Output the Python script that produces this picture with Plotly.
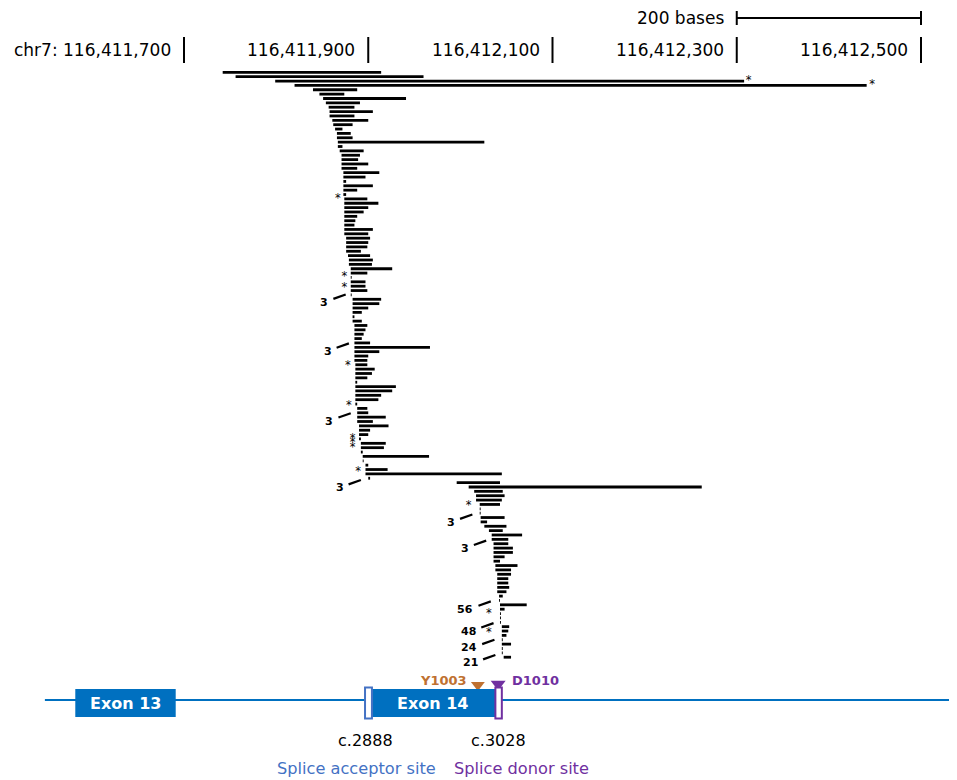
import plotly.graph_objects as go

# ---------------- data ----------------
BASE = 116411000
# deletion start / end (genomic coordinate = BASE + value), one entry per row, top to bottom
del_start = [742, 756, 799, 820, 840, 847, 851, 854, 857, 858,
             858, 861, 862, 864, 866, 866, 867, 867, 869, 871,
             871, 871, 871, 873, 873, 873, 873, 873, 873, 874,
             874, 874, 874, 874, 874, 874, 874, 874, 876, 876,
             876, 876, 878, 879, 879, 881, 881, 881, 881, 881,
             881, 881, 883, 883, 883, 883, 883, 883, 885, 885,
             885, 885, 885, 885, 885, 885, 885, 886, 886, 886,
             886, 886, 886, 886, 886, 886, 886, 888, 888, 888,
             888, 890, 890, 890, 890, 892, 892, 892, 894, 894,
             897, 897, 897, 900, 996, 1009, 1015, 1017, 1017, 1021,
             1021, 1021, 1022, 1022, 1026, 1031, 1034, 1034, 1036, 1036,
             1036, 1036, 1036, 1038, 1038, 1040, 1040, 1040, 1040, 1040,
             1042, 1042, 1043, 1043, 1043, 1043, 1043, 1045, 1045, 1045,
             1045, 1045, 1045, 1045, 1047]
del_end = [914, 960, 1308, 1441, 888, 874, 941, 891, 885, 905,
           885, 900, 883, 872, 881, 883, 1026, 872, 895, 891,
           889, 900, 888, 912, 897, 876, 905, 888, 876, 899,
           911, 900, 895, 888, 886, 885, 905, 900, 902, 900,
           899, 892, 902, 905, 904, 926, 899, 882, 897, 897,
           899, 882, 914, 912, 900, 893, 885, 893, 899, 897,
           895, 893, 902, 967, 912, 900, 899, 899, 907, 904,
           899, 888, 930, 926, 914, 911, 888, 899, 900, 919,
           905, 922, 902, 900, 892, 919, 917, 894, 966, 895,
           900, 921, 1045, 902, 1043, 1262, 1046, 1048, 1045, 1043,
           1022, 1022, 1048, 1029, 1050, 1046, 1067, 1052, 1052, 1057,
           1057, 1048, 1043, 1062, 1055, 1055, 1052, 1052, 1053, 1050,
           1046, 1043, 1072, 1048, 1044, 1044, 1044, 1053, 1052, 1050,
           1046, 1055, 1046, 1046, 1055]

# asterisk marks (row position, coordinate offset)
star_rows = [3, 4, 30, 48, 50.4, 68.3, 77.4, 85, 86, 87, 92.5, 100.5, 125.2, 129.4]
star_x = [1313, 1447, 867, 874, 874, 878, 879, 883, 883, 883, 889, 1009, 1031, 1031]

# recurrence count labels (text, row the leader points to, coordinate offset of the leader tip)
count_text = ["3", "3", "3", "3", "3", "3", "56", "48", "24", "21"]
count_rows = [51.9, 63.1, 79.1, 94.4, 102.3, 108.3, 122.2, 127.2, 131.0, 134.5]
count_x = [875.5, 879, 881, 892, 1013, 1028, 1033, 1036, 1037, 1038]

tick_values = [116411700, 116411900, 116412100, 116412300, 116412500]
tick_labels = ["chr7: 116,411,700", "116,411,900", "116,412,100", "116,412,300", "116,412,500"]

exon13 = (116411582, 116411691)
exon14 = (116411904, 116412038)
acceptor_site = (116411896.5, 116411904)
donor_site = (116412038, 116412045)
variants = {"Y1003": 116412019, "D1010": 116412041}
cdna_labels = {"c.2888": 116411896.5, "c.3028": 116412041}

# ---------------- layout helpers ----------------
PAGE_MARGIN = 8          # default body margin of the html page
W, H = 957 - PAGE_MARGIN, 780 - PAGE_MARGIN
PX_PER_BP = 0.92125
X0 = 116411700 - (184 - PAGE_MARGIN) / PX_PER_BP
X1 = X0 + W / PX_PER_BP
ROW0_PX, ROW_PX = 72.3 - PAGE_MARGIN, 4.365
Y_TOP = 1 - ROW0_PX / ROW_PX
Y_BOT = 1 + (H - ROW0_PX) / ROW_PX


def py(px):
    """paper y for a reference-picture pixel row"""
    return 1 - (px - PAGE_MARGIN) / H


def row_of(px):
    return 1 + (px - PAGE_MARGIN - ROW0_PX) / ROW_PX


FONT = "DejaVu Sans"
BLUE = "#0070C0"
PURPLE = "#7030A0"
ORANGE = "#BF7131"
LBLUE = "#4472C4"

fig = go.Figure()

# deletion bars
xs, ys = [], []
for i, (s, e) in enumerate(zip(del_start, del_end)):
    r = i + 1
    xs += [BASE + s, BASE + e, None]
    ys += [r, r, None]
fig.add_trace(go.Scatter(x=xs, y=ys, mode="lines",
                         line=dict(color="black", width=2.8),
                         hoverinfo="skip", showlegend=False))

# count leaders
lx, ly = [], []
dx_bp = 12.3 / PX_PER_BP
for t, r, x in zip(count_text, count_rows, count_x):
    lx += [BASE + x - dx_bp, BASE + x, None]
    ly += [r + 1.0, r, None]
fig.add_trace(go.Scatter(x=lx, y=ly, mode="lines",
                         line=dict(color="black", width=2.2),
                         hoverinfo="skip", showlegend=False))

annotations = []
for t, r, x in zip(count_text, count_rows, count_x):
    annotations.append(dict(x=BASE + x - dx_bp, y=r + 1.8, xref="x", yref="y",
                            text="<b>%s</b>" % t, showarrow=False, xanchor="right",
                            yanchor="middle", xshift=-3,
                            font=dict(family=FONT, size=11, color="black")))

# asterisks
fig.add_trace(go.Scatter(x=[BASE + x for x in star_x], y=star_rows, mode="text",
                         text=["*"] * len(star_rows), textposition="middle center",
                         textfont=dict(family=FONT, size=11.5, color="black"),
                         hoverinfo="skip", showlegend=False))

# variant triangles
fig.add_trace(go.Scatter(x=[variants["Y1003"]], y=[row_of(685)], mode="markers",
                         marker=dict(symbol="triangle-down", size=12, color=ORANGE),
                         hoverinfo="skip", showlegend=False))
fig.add_trace(go.Scatter(x=[variants["D1010"]], y=[row_of(684)], mode="markers",
                         marker=dict(symbol="triangle-down", size=13, color=PURPLE),
                         hoverinfo="skip", showlegend=False))

shapes = []
# header ticks
for tv in tick_values:
    shapes.append(dict(type="line", xref="x", yref="paper", x0=tv, x1=tv,
                       y0=py(63), y1=py(37), line=dict(color="black", width=2)))
# scale bar
shapes.append(dict(type="line", xref="x", yref="paper", x0=116412300, x1=116412500,
                   y0=py(18), y1=py(18), line=dict(color="black", width=2)))
for xv in (116412300, 116412500):
    shapes.append(dict(type="line", xref="x", yref="paper", x0=xv, x1=xv,
                       y0=py(11), y1=py(25), line=dict(color="black", width=2)))
# gene model
shapes.append(dict(type="line", xref="x", yref="paper", x0=116411549, x1=X1 + 5,
                   y0=py(700), y1=py(700), line=dict(color=BLUE, width=2), layer="below"))
for ex in (exon13, exon14):
    shapes.append(dict(type="rect", xref="x", yref="paper", x0=ex[0], x1=ex[1],
                       y0=py(717), y1=py(689), fillcolor=BLUE, line=dict(width=0)))
shapes.append(dict(type="rect", xref="x", yref="paper", x0=acceptor_site[0], x1=acceptor_site[1],
                   y0=py(718.5), y1=py(687.5), fillcolor="white", line=dict(color=LBLUE, width=2)))
shapes.append(dict(type="rect", xref="x", yref="paper", x0=donor_site[0], x1=donor_site[1],
                   y0=py(718.5), y1=py(687.5), fillcolor="white", line=dict(color=PURPLE, width=2)))

# header labels
for tv, tl in zip(tick_values, tick_labels):
    annotations.append(dict(x=tv, y=py(50), xref="x", yref="paper", text=tl,
                            showarrow=False, xanchor="right", yanchor="middle", xshift=-11,
                            font=dict(family=FONT, size=17, color="black")))
annotations.append(dict(x=116412300, y=py(18), xref="x", yref="paper", text="200 bases",
                        showarrow=False, xanchor="right", yanchor="middle", xshift=-11,
                        font=dict(family=FONT, size=17, color="black")))

# gene labels
annotations.append(dict(x=sum(exon13) / 2, y=py(703), xref="x", yref="paper", text="<b>Exon 13</b>",
                        showarrow=False, xanchor="center", yanchor="middle",
                        font=dict(family=FONT, size=16, color="white")))
annotations.append(dict(x=116411970, y=py(703), xref="x", yref="paper", text="<b>Exon 14</b>",
                        showarrow=False, xanchor="center", yanchor="middle",
                        font=dict(family=FONT, size=16, color="white")))
annotations.append(dict(x=variants["Y1003"], y=py(680), xref="x", yref="paper", text="<b>Y1003</b>",
                        showarrow=False, xanchor="right", yanchor="middle", xshift=-9,
                        font=dict(family=FONT, size=13, color=ORANGE)))
annotations.append(dict(x=variants["D1010"], y=py(680), xref="x", yref="paper", text="<b>D1010</b>",
                        showarrow=False, xanchor="left", yanchor="middle", xshift=12,
                        font=dict(family=FONT, size=13, color=PURPLE)))
for t, xv in cdna_labels.items():
    annotations.append(dict(x=xv, y=py(740), xref="x", yref="paper", text=t,
                            showarrow=False, xanchor="center", yanchor="middle",
                            font=dict(family=FONT, size=16, color="black")))
annotations.append(dict(x=116411700 + (356 - 184) / PX_PER_BP, y=py(768), xref="x", yref="paper",
                        text="Splice acceptor site", showarrow=False, xanchor="center", yanchor="middle",
                        font=dict(family=FONT, size=16.2, color=LBLUE)))
annotations.append(dict(x=116411700 + (521 - 184) / PX_PER_BP, y=py(768), xref="x", yref="paper",
                        text="Splice donor site", showarrow=False, xanchor="center", yanchor="middle",
                        font=dict(family=FONT, size=16.2, color=PURPLE)))

fig.update_layout(
    width=W, height=H, margin=dict(l=0, r=0, t=0, b=0),
    paper_bgcolor="white", plot_bgcolor="white",
    xaxis=dict(range=[X0, X1], visible=False, fixedrange=True),
    yaxis=dict(range=[Y_BOT, Y_TOP], visible=False, fixedrange=True),
    shapes=shapes, annotations=annotations, showlegend=False,
)

fig.write_html("out.html")
